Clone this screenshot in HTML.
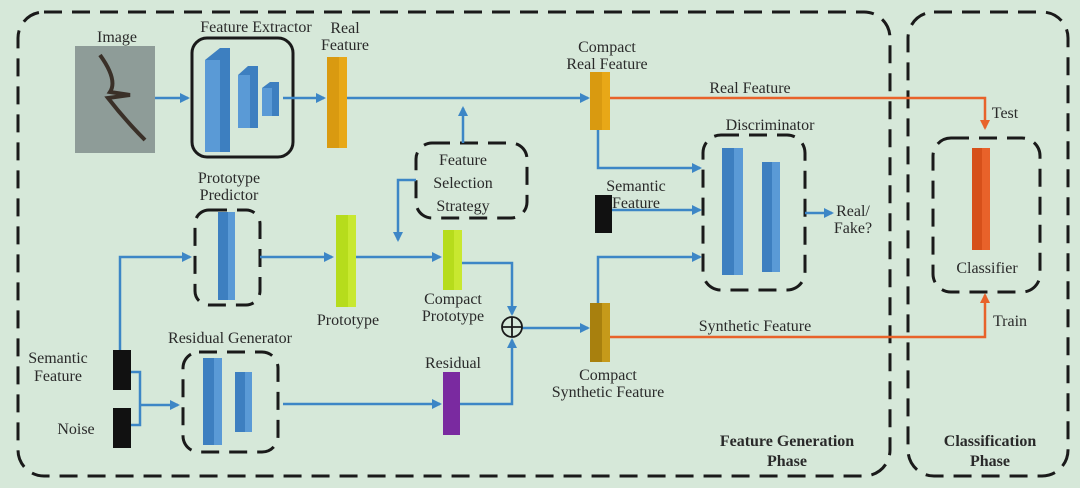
<!DOCTYPE html>
<html><head><meta charset="utf-8"><style>
html,body{margin:0;padding:0;background:#d6e8d9;}
svg{display:block;}
text{font-family:"Liberation Serif",serif;font-size:16px;fill:#2a2a2a;text-anchor:middle;}
.b{font-weight:bold;}
</style></head><body>
<svg width="1080" height="488" viewBox="0 0 1080 488" xmlns="http://www.w3.org/2000/svg">
<defs>
<marker id="ab" markerWidth="10" markerHeight="10" refX="8" refY="5" orient="auto" markerUnits="userSpaceOnUse"><path d="M0,0 L10,5 L0,10 z" fill="#3d86c6"/></marker>
<marker id="ao" markerWidth="10" markerHeight="10" refX="8" refY="5" orient="auto" markerUnits="userSpaceOnUse"><path d="M0,0 L10,5 L0,10 z" fill="#e8622a"/></marker>
</defs>
<rect width="1080" height="488" fill="#d6e8d9"/>
<g fill="none" stroke="#1a1a1a" stroke-width="3" stroke-dasharray="18,10">
<rect x="18" y="12" width="872" height="464" rx="26"/>
<rect x="908" y="12" width="160" height="464" rx="26"/>
<rect x="416" y="143" width="111" height="75" rx="16"/>
<rect x="703" y="135" width="102" height="155" rx="18"/>
<rect x="195" y="210" width="65" height="95" rx="14"/>
<rect x="183" y="352" width="95" height="100" rx="16"/>
<rect x="933" y="138" width="107" height="154" rx="18"/>
</g>
<rect x="192" y="38" width="101" height="119" rx="15" fill="none" stroke="#1a1a1a" stroke-width="3"/>
<!-- image -->
<rect x="75" y="46" width="80" height="107" fill="#8e9c98"/>
<path d="M100,55 Q118,80 110,92 L130,95 L108,98 Q125,120 145,140" stroke="#3a3028" stroke-width="4" fill="none"/>
<!-- extractor blocks -->
<polygon points="205,60 220,48 230,48 230,152 215,152 205,152" fill="#3d7fc0"/>
<rect x="205" y="60" width="15" height="92" fill="#5a9ad6"/>
<polygon points="238,75 248,66 258,66 258,128 238,128" fill="#3d7fc0"/>
<rect x="238" y="75" width="12" height="53" fill="#5a9ad6"/>
<polygon points="262,88 270,82 279,82 279,116 262,116" fill="#3d7fc0"/>
<rect x="262" y="88" width="10" height="28" fill="#5a9ad6"/>
<!-- connectors blue -->
<g stroke="#3d86c6" stroke-width="2.5" fill="none">
<line x1="155" y1="98" x2="188" y2="98" marker-end="url(#ab)"/>
<line x1="283" y1="98" x2="324" y2="98" marker-end="url(#ab)"/>
<line x1="347" y1="98" x2="588" y2="98" marker-end="url(#ab)"/>
<line x1="463" y1="143" x2="463" y2="108" marker-end="url(#ab)"/>
<polyline points="416,180 398,180 398,240" marker-end="url(#ab)"/>
<polyline points="598,130 598,168 700,168" marker-end="url(#ab)"/>
<line x1="612" y1="210" x2="700" y2="210" marker-end="url(#ab)"/>
<line x1="805" y1="213" x2="832" y2="213" marker-end="url(#ab)"/>
<polyline points="120,350 120,257 190,257" marker-end="url(#ab)"/>
<polyline points="131,372 140,372 140,425 131,425"/>
<line x1="140" y1="405" x2="178" y2="405" marker-end="url(#ab)"/>
<line x1="283" y1="404" x2="440" y2="404" marker-end="url(#ab)"/>
<polyline points="460,404 512,404 512,340" marker-end="url(#ab)"/>
<line x1="260" y1="257" x2="332" y2="257" marker-end="url(#ab)"/>
<line x1="356" y1="257" x2="440" y2="257" marker-end="url(#ab)"/>
<polyline points="462,263 512,263 512,314" marker-end="url(#ab)"/>
<line x1="522" y1="328" x2="588" y2="328" marker-end="url(#ab)"/>
<polyline points="598,303 598,257 700,257" marker-end="url(#ab)"/>
</g>
<g stroke="#e8622a" stroke-width="2.5" fill="none">
<polyline points="610,98 985,98 985,128" marker-end="url(#ao)"/>
<polyline points="610,337 985,337 985,295" marker-end="url(#ao)"/>
</g>
<circle cx="512" cy="327" r="10" fill="none" stroke="#1a1a1a" stroke-width="1.8"/>
<path d="M502,327 H522 M512,317 V337" stroke="#1a1a1a" stroke-width="1.8"/>
<!-- bars -->
<rect x="327" y="57" width="20" height="91" fill="#e8a817"/><rect x="327" y="57" width="12" height="91" fill="#d99a10"/>
<rect x="590" y="72" width="20" height="58" fill="#e8a817"/><rect x="590" y="72" width="12" height="58" fill="#d99a10"/>
<rect x="590" y="303" width="20" height="59" fill="#c69a1a"/><rect x="590" y="303" width="12" height="59" fill="#a8800e"/>
<rect x="336" y="215" width="20" height="92" fill="#c8e830"/><rect x="336" y="215" width="12" height="92" fill="#b6dc1c"/>
<rect x="443" y="230" width="19" height="60" fill="#c8e830"/><rect x="443" y="230" width="11" height="60" fill="#b6dc1c"/>
<rect x="443" y="372" width="17" height="63" fill="#7a2aa0"/>
<rect x="218" y="212" width="17" height="88" fill="#5a9ad6"/><rect x="218" y="212" width="10" height="88" fill="#3d7fc0"/>
<rect x="203" y="358" width="19" height="87" fill="#5a9ad6"/><rect x="203" y="358" width="11" height="87" fill="#3d7fc0"/>
<rect x="235" y="372" width="17" height="60" fill="#5a9ad6"/><rect x="235" y="372" width="10" height="60" fill="#3d7fc0"/>
<rect x="722" y="148" width="21" height="127" fill="#5a9ad6"/><rect x="722" y="148" width="12" height="127" fill="#3d7fc0"/>
<rect x="762" y="162" width="18" height="110" fill="#5a9ad6"/><rect x="762" y="162" width="10" height="110" fill="#3d7fc0"/>
<rect x="972" y="148" width="18" height="102" fill="#e8622a"/><rect x="972" y="148" width="10" height="102" fill="#d6501a"/>
<rect x="595" y="195" width="17" height="38" fill="#111"/>
<rect x="113" y="350" width="18" height="40" fill="#111"/>
<rect x="113" y="408" width="18" height="40" fill="#111"/>
<!-- labels -->
<text x="117" y="42">Image</text>
<text x="256" y="32">Feature Extractor</text>
<text x="345" y="33">Real</text><text x="345" y="50">Feature</text>
<text x="607" y="52">Compact</text><text x="607" y="69">Real Feature</text>
<text x="750" y="93">Real Feature</text>
<text x="1005" y="118">Test</text>
<text x="463" y="165">Feature</text><text x="463" y="188">Selection</text><text x="463" y="211">Strategy</text>
<text x="770" y="130">Discriminator</text>
<text x="636" y="191">Semantic</text><text x="636" y="208">Feature</text>
<text x="853" y="216">Real/</text><text x="853" y="233">Fake?</text>
<text x="229" y="183">Prototype</text><text x="229" y="200">Predictor</text>
<text x="348" y="325">Prototype</text>
<text x="453" y="304">Compact</text><text x="453" y="321">Prototype</text>
<text x="230" y="343">Residual Generator</text>
<text x="453" y="368">Residual</text>
<text x="58" y="363">Semantic</text><text x="58" y="381">Feature</text>
<text x="76" y="434">Noise</text>
<text x="608" y="380">Compact</text><text x="608" y="397">Synthetic Feature</text>
<text x="755" y="331">Synthetic Feature</text>
<text x="1010" y="326">Train</text>
<text x="987" y="273">Classifier</text>
<text class="b" x="787" y="446">Feature Generation</text><text class="b" x="787" y="466">Phase</text>
<text class="b" x="990" y="446">Classification</text><text class="b" x="990" y="466">Phase</text>
</svg>
</body></html>
